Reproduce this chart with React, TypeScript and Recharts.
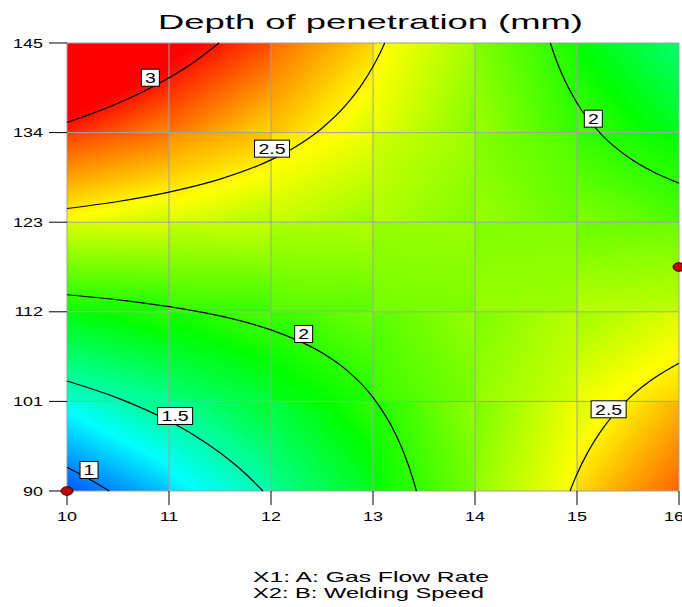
import {
  ComposedChart,
  Line,
  ReferenceArea,
  ReferenceLine,
  Scatter,
  XAxis,
  YAxis,
} from 'recharts';

// A: Gas Flow Rate (x) and B: Welding Speed (y)
const gasFlow = [10, 11, 12, 13, 14, 15, 16];
const weldSpeed = [90, 101, 112, 123, 134, 145];

// depth of penetration (mm) read at each grid crossing, one row per welding speed
const depthGrid = [
  [0.862, 1.194, 1.526, 1.859, 2.191, 2.523, 2.855], // 90
  [1.382, 1.586, 1.79, 1.994, 2.198, 2.402, 2.606], // 101
  [1.901, 1.977, 2.053, 2.129, 2.205, 2.281, 2.357], // 112
  [2.421, 2.369, 2.317, 2.265, 2.213, 2.161, 2.109], // 123
  [2.94, 2.76, 2.58, 2.4, 2.22, 2.04, 1.86], // 134
  [3.46, 3.152, 2.844, 2.536, 2.227, 1.919, 1.611], // 145
];

// contour lines
const contour3 = [
  { x: 10, y: 135.26 }, { x: 10.25, y: 136.36 }, { x: 10.5, y: 137.61 }, { x: 10.75, y: 139.05 },
  { x: 11, y: 140.73 }, { x: 11.25, y: 142.71 }, { x: 11.49, y: 145 },
];
const contour25Top = [
  { x: 10, y: 124.68 }, { x: 10.5, y: 125.54 }, { x: 11, y: 126.69 }, { x: 11.5, y: 128.28 },
  { x: 12, y: 130.65 }, { x: 12.25, y: 132.33 }, { x: 12.5, y: 134.54 }, { x: 12.75, y: 137.61 },
  { x: 12.9, y: 140.08 }, { x: 13, y: 142.12 }, { x: 13.06, y: 143.53 }, { x: 13.115, y: 145 },
];
const contour2Mid = [
  { x: 10, y: 114.09 }, { x: 10.5, y: 113.47 }, { x: 11, y: 112.64 }, { x: 11.5, y: 111.49 },
  { x: 12, y: 109.78 }, { x: 12.5, y: 106.96 }, { x: 12.75, y: 104.75 }, { x: 13, y: 101.5 },
  { x: 13.2, y: 97.52 }, { x: 13.3, y: 94.75 }, { x: 13.4, y: 91.14 }, { x: 13.426, y: 90 },
];
const contour2Top = [
  { x: 14.738, y: 145 }, { x: 14.8, y: 142.78 }, { x: 14.85, y: 141.25 }, { x: 15, y: 137.64 },
  { x: 15.25, y: 133.63 }, { x: 15.5, y: 131.01 }, { x: 15.75, y: 129.17 }, { x: 16, y: 127.8 },
];
const contour25Bottom = [
  { x: 14.931, y: 90 }, { x: 15, y: 92.08 }, { x: 15.1, y: 94.62 }, { x: 15.25, y: 97.63 },
  { x: 15.5, y: 101.25 }, { x: 15.75, y: 103.8 }, { x: 16, y: 105.69 },
];
const contour15 = [
  { x: 10, y: 103.51 }, { x: 10.5, y: 101.4 }, { x: 11, y: 98.59 }, { x: 11.25, y: 96.82 },
  { x: 11.5, y: 94.69 }, { x: 11.75, y: 92.11 }, { x: 11.921, y: 90 },
];
const contour1 = [{ x: 10, y: 92.92 }, { x: 10.25, y: 91.24 }, { x: 10.415, y: 90 }];

const contourLabels = [
  { x: 10.817, y: 140.74, text: '3' },
  { x: 12.01, y: 132.03, text: '2.5' },
  { x: 15.16, y: 135.71, text: '2' },
  { x: 12.32, y: 109.28, text: '2' },
  { x: 11.06, y: 99.21, text: '1.5' },
  { x: 10.216, y: 92.58, text: '1' },
  { x: 15.31, y: 100.03, text: '2.5' },
];

const designPoints = [{ x: 10, y: 90 }, { x: 16, y: 117.5 }];

// blue -> cyan -> green -> yellow -> red
const colorStops: { v: number; c: number[] }[] = [
  { v: 0.7, c: [0, 0, 255] },
  { v: 1.3, c: [0, 255, 255] },
  { v: 1.9, c: [0, 255, 0] },
  { v: 2.47, c: [255, 255, 0] },
  { v: 3.05, c: [255, 0, 0] },
];

const FONT = 'Arial, "Liberation Sans", sans-serif';
const STRETCH = 1.38;

function colorAt(v: number) {
  const first = colorStops[0];
  const last = colorStops[colorStops.length - 1];
  if (v <= first.v) return `rgb(${first.c.join(',')})`;
  if (v >= last.v) return `rgb(${last.c.join(',')})`;
  for (let i = 0; i < colorStops.length - 1; i++) {
    const a = colorStops[i];
    const b = colorStops[i + 1];
    if (v >= a.v && v <= b.v) {
      const t = (v - a.v) / (b.v - a.v);
      const c = a.c.map((ch, k) => Math.round(ch + (b.c[k] - ch) * t));
      return `rgb(${c.join(',')})`;
    }
  }
  return 'black';
}

// a linear gradient per grid cell, fitted to its four corner values
function cellGradient(id: string, tl: number, tr: number, bl: number, br: number) {
  const b = (tr + br - tl - bl) / 2;
  const c = (bl + br - tl - tr) / 2;
  const m = (tl + tr + bl + br) / 4;
  const span = Math.abs(b) + Math.abs(c);
  const vmin = m - span / 2;
  const vmax = m + span / 2;
  if (span < 1e-6) {
    return (
      <linearGradient key={id} id={id}>
        <stop offset="0" stopColor={colorAt(m)} />
      </linearGradient>
    );
  }
  const u0 = b > 0 ? 0 : 1;
  const s0 = c > 0 ? 0 : 1;
  const k = span / (b * b + c * c);
  const vals = [vmin, ...colorStops.map((s) => s.v).filter((v) => v > vmin && v < vmax), vmax];
  return (
    <linearGradient key={id} id={id} x1={u0} y1={s0} x2={u0 + k * b} y2={s0 + k * c}>
      {vals.map((v, i) => (
        <stop key={i} offset={(v - vmin) / span} stopColor={colorAt(v)} />
      ))}
    </linearGradient>
  );
}

const cells: { id: string; x1: number; x2: number; y1: number; y2: number }[] = [];
const gradients: JSX.Element[] = [];
for (let j = 0; j < weldSpeed.length - 1; j++) {
  for (let i = 0; i < gasFlow.length - 1; i++) {
    const id = `dop-cell-${i}-${j}`;
    cells.push({ id, x1: gasFlow[i], x2: gasFlow[i + 1], y1: weldSpeed[j], y2: weldSpeed[j + 1] });
    gradients.push(
      cellGradient(id, depthGrid[j + 1][i], depthGrid[j + 1][i + 1], depthGrid[j][i], depthGrid[j][i + 1]),
    );
  }
}

const XTick = (props: any) => {
  const { x, y, payload } = props;
  return (
    <g transform={`translate(${x},${y}) scale(${STRETCH},1)`}>
      <text x={0} y={0} dy="0.71em" textAnchor="middle" fontSize={13} fontFamily={FONT} fill="#000">
        {payload.value}
      </text>
    </g>
  );
};

const YTick = (props: any) => {
  const { x, y, payload } = props;
  return (
    <g transform={`translate(${x},${y}) scale(${STRETCH},1)`}>
      <text x={0} y={0} dy="0.36em" textAnchor="end" fontSize={13} fontFamily={FONT} fill="#000">
        {payload.value}
      </text>
    </g>
  );
};

const LabelBox = (props: any) => {
  const { cx, cy, payload } = props;
  const w = payload.text.length > 1 ? 35 : 18;
  return (
    <g>
      <rect x={cx - w / 2} y={cy - 8.5} width={w} height={17} fill="#fff" stroke="#000" strokeWidth={1} />
      <g transform={`translate(${cx},${cy}) scale(1.3,1)`}>
        <text x={0} y={0} dy="0.36em" textAnchor="middle" fontSize={15} fontFamily={FONT} fill="#000">
          {payload.text}
        </text>
      </g>
    </g>
  );
};

const DesignDot = (props: any) => {
  const { cx, cy } = props;
  return <ellipse cx={cx} cy={cy} rx={6} ry={4.3} fill="#c00000" stroke="#300" strokeWidth={1} />;
};

const contours = [contour3, contour25Top, contour2Mid, contour2Top, contour25Bottom, contour15, contour1];

export default function App() {
  return (
    <div style={{ position: 'absolute', left: 0, top: 0, width: 682, height: 607, background: '#fff' }}>
      <svg width={0} height={0} style={{ position: 'absolute' }}>
        <defs>{gradients}</defs>
      </svg>
      <ComposedChart width={682} height={607} margin={{ top: 43, right: 3, left: 0, bottom: 86 }}>
        <XAxis
          type="number"
          dataKey="x"
          domain={[10, 16]}
          ticks={gasFlow}
          axisLine={false}
          tickLine={{ stroke: '#000' }}
          tickSize={14}
          tickMargin={7}
          height={30}
          tick={XTick}
        />
        <YAxis
          type="number"
          dataKey="y"
          domain={[90, 145]}
          ticks={weldSpeed}
          axisLine={false}
          tickLine={{ stroke: '#000' }}
          tickSize={18}
          tickMargin={6}
          width={67}
          tick={YTick}
        />
        {cells.map((c) => (
          <ReferenceArea
            key={c.id}
            x1={c.x1}
            x2={c.x2}
            y1={c.y1}
            y2={c.y2}
            fill={`url(#${c.id})`}
            fillOpacity={1}
            stroke="none"
          />
        ))}
        {gasFlow.map((x) => (
          <ReferenceLine key={`gx-${x}`} x={x} stroke="#a0a0a0" strokeWidth={1} />
        ))}
        {weldSpeed.map((y) => (
          <ReferenceLine key={`gy-${y}`} y={y} stroke="#a0a0a0" strokeWidth={1} />
        ))}
        {contours.map((d, i) => (
          <Line
            key={`c-${i}`}
            data={d}
            dataKey="y"
            type="monotone"
            stroke="#000"
            strokeWidth={1.2}
            dot={false}
            activeDot={false}
            isAnimationActive={false}
          />
        ))}
        <Scatter data={contourLabels} dataKey="y" shape={LabelBox} isAnimationActive={false} />
        <Scatter data={designPoints} dataKey="y" shape={DesignDot} isAnimationActive={false} />
      </ComposedChart>
      <svg
        width={682}
        height={607}
        style={{ position: 'absolute', left: 0, top: 0, pointerEvents: 'none' }}
      >
        <text x={158} y={29} fontSize={21} fontFamily={FONT} textLength={425} lengthAdjust="spacingAndGlyphs" fill="#000">
          Depth of penetration (mm)
        </text>
        <text x={253} y={582} fontSize={14.5} fontFamily={FONT} textLength={236} lengthAdjust="spacingAndGlyphs" fill="#000">
          X1: A: Gas Flow Rate
        </text>
        <text x={253} y={598} fontSize={14.5} fontFamily={FONT} textLength={231} lengthAdjust="spacingAndGlyphs" fill="#000">
          X2: B: Welding Speed
        </text>
      </svg>
    </div>
  );
}
